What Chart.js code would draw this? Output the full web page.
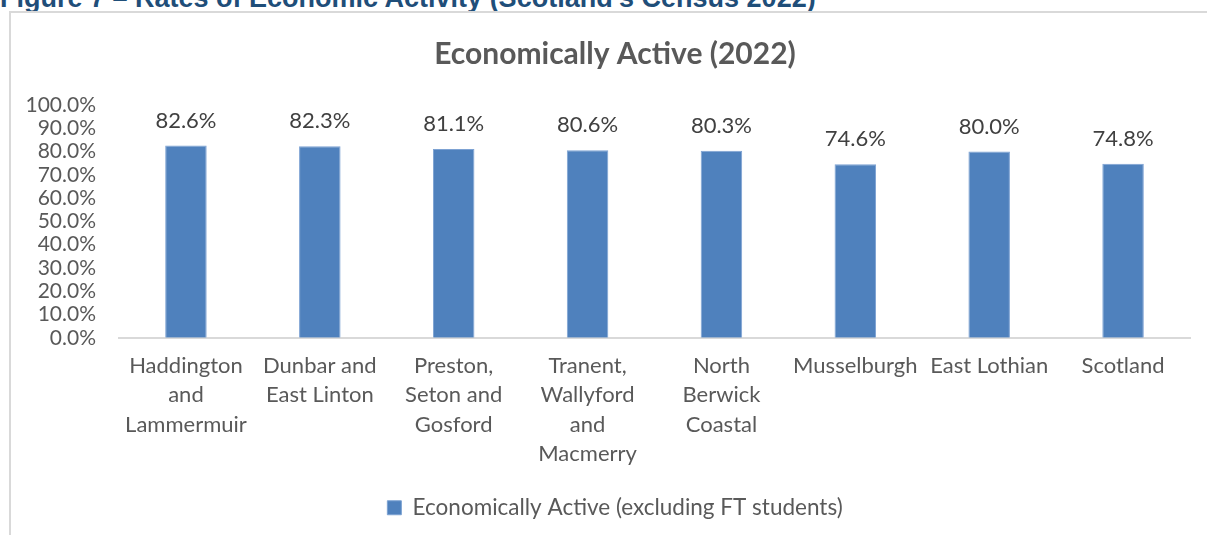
<!DOCTYPE html>
<html>
<head>
<meta charset="utf-8">
<script src="https://cdn.jsdelivr.net/npm/chart.js@4.4.1/dist/chart.umd.min.js"></script>
<style>
  body { margin: 0; background: #fff; width: 1207px; height: 535px; overflow: hidden; position: relative; }
  #heading { position: absolute; left: 0; top: -15px; font: bold 27px "Liberation Sans", Arial, sans-serif; line-height: 27px; color: #1F4E79; white-space: nowrap; }
  #box { position: absolute; left: 9px; top: 11px; width: 1198px; height: 524px; border-left: 2px solid #d9d9d9; border-top: 2px solid #d9d9d9; overflow: hidden; }
  #wrap { position: absolute; left: -8px; top: 0; width: 1224px; height: 522px; }
</style>
</head>
<body>
<div id="heading">Figure 7 – Rates of Economic Activity (Scotland's Census 2022)</div>
<div id="box"><div id="wrap"><canvas id="chart"></canvas></div></div>
<script>
var categories = [
  ["Haddington", "and", "Lammermuir"],
  ["Dunbar and", "East Linton"],
  ["Preston,", "Seton and", "Gosford"],
  ["Tranent,", "Wallyford", "and", "Macmerry"],
  ["North", "Berwick", "Coastal"],
  "Musselburgh",
  "East Lothian",
  "Scotland"
];
var activeRates = [82.6, 82.3, 81.1, 80.6, 80.3, 74.6, 80.0, 74.8];
var seriesName = "Economically Active (excluding FT students)";

var textColor = "#595959";
var fontFamily = "Lato, 'Open Sans', sans-serif";

// labels over each bar, placed from the bar elements
var barLabels = {
  id: 'barLabels',
  afterDatasetsDraw: function(chart) {
    var ctx = chart.ctx;
    var meta = chart.getDatasetMeta(0);
    ctx.save();
    ctx.font = "22px " + fontFamily;
    ctx.fillStyle = "#404040";
    ctx.textAlign = "center";
    ctx.textBaseline = "bottom";
    meta.data.forEach(function(bar, i) {
      ctx.fillText(activeRates[i].toFixed(1) + "%", bar.x, bar.y - 14);
    });
    ctx.restore();
  }
};

var chart = new Chart(document.getElementById('chart'), {
  type: 'bar',
  data: {
    labels: categories,
    datasets: [{
      label: seriesName,
      data: activeRates,
      backgroundColor: "#4F81BD",
      borderColor: "#7DA2D3",
      borderWidth: 1,
      categoryPercentage: 1,
      barPercentage: 0.31
    }]
  },
  options: {
    responsive: true, maintainAspectRatio: false, animation: false,
    layout: { padding: { left: 23, right: 23, top: 0, bottom: 6 } },
    plugins: {
      title: { display: true, text: "Economically Active (2022)", color: textColor,
               font: { family: fontFamily, size: 30, weight: 'bold' }, padding: { top: 23, bottom: 33 } },
      legend: { display: true, position: 'bottom',
                labels: { color: textColor, font: { family: fontFamily, size: 22.5 }, boxWidth: 14, boxHeight: 14, padding: 14.5 } },
      tooltip: { enabled: false }
    },
    scales: {
      x: {
        grid: { display: false, drawTicks: false },
        border: { color: "#d9d9d9", width: 2 },
        ticks: { color: textColor, font: { family: fontFamily, size: 22, lineHeight: 1.32 }, maxRotation: 0, autoSkip: false, padding: 14 }
      },
      y: {
        min: 0, max: 100,
        grid: { display: false, drawTicks: false },
        border: { display: false },
        afterFit: function(scale) { scale.width = 93; },
        ticks: { stepSize: 10, autoSkip: false, color: textColor, font: { family: fontFamily, size: 21 }, padding: 23,
                 callback: function(v) { return v.toFixed(1) + "%"; } }
      },
      // empty spacer on the right so the title and legend centre like the original
      y1: {
        position: 'right',
        grid: { display: false, drawTicks: false },
        border: { display: false },
        ticks: { display: false },
        afterFit: function(scale) { scale.width = 14; }
      }
    }
  },
  plugins: [barLabels]
});
</script>
</body>
</html>
